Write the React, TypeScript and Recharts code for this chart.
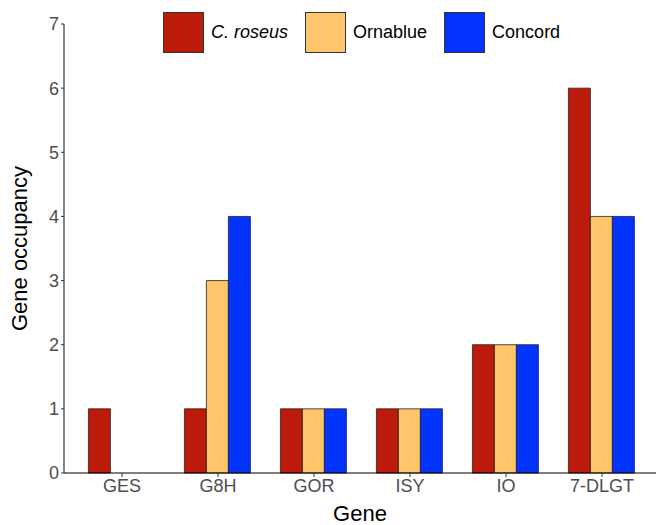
import React from 'react'
import { BarChart, Bar, XAxis, YAxis, Legend } from 'recharts'

const genes = ['GES', 'G8H', 'GOR', 'ISY', 'IO', '7-DLGT']
const roseus = [1, 1, 1, 1, 2, 6]
const ornablue = [0, 3, 1, 1, 2, 4]
const concord = [0, 4, 1, 1, 2, 4]
const yTicks = [0, 1, 2, 3, 4, 5, 6, 7]

const SERIES = [
  { key: 'roseus', name: 'C. roseus', color: '#BC1A0B', italic: true },
  { key: 'ornablue', name: 'Ornablue', color: '#FFC56B', italic: false },
  { key: 'concord', name: 'Concord', color: '#0433FF', italic: false },
]

const data = genes.map((g, i) => ({
  gene: g,
  roseus: roseus[i],
  ornablue: ornablue[i],
  concord: concord[i],
}))

const FONT = '"Liberation Sans", Arial, sans-serif'

const renderLegend = () => (
  <div style={{ display: 'flex', alignItems: 'center', fontFamily: FONT, fontSize: 18, color: '#000' }}>
    {SERIES.map((s) => (
      <div key={s.key} style={{ display: 'flex', alignItems: 'center', marginRight: 17 }}>
        <div
          style={{
            width: 39,
            height: 39,
            background: s.color,
            border: '1px solid #333',
          }}
        />
        <span style={{ marginLeft: 7, fontStyle: s.italic ? 'italic' : 'normal' }}>{s.name}</span>
      </div>
    ))}
  </div>
)

export default function App() {
  return (
    <div style={{ position: 'absolute', left: 0, top: 0, background: '#fff' }}>
      <BarChart
        width={656}
        height={525}
        data={data}
        margin={{ top: 24, right: 0, bottom: 0, left: 0 }}
        barCategoryGap="15%"
        barGap={0}
      >
        <XAxis
          dataKey="gene"
          height={52}
          padding={{ left: 10, right: 6 }}
          tickSize={4}
          tickMargin={2}
          tick={{ fill: '#4D4D4D', fontSize: 18, fontFamily: FONT }}
          axisLine={{ stroke: '#000', strokeWidth: 1.2 }}
          tickLine={{ stroke: '#333' }}
          label={{ value: 'Gene', position: 'insideBottom', offset: 4, fill: '#000', fontSize: 22, fontFamily: FONT }}
        />
        <YAxis
          width={64}
          domain={[0, 7]}
          ticks={yTicks}
          interval={0}
          tickSize={3}
          tickMargin={2}
          tick={{ fill: '#4D4D4D', fontSize: 18, fontFamily: FONT }}
          axisLine={{ stroke: '#333', strokeWidth: 1.2 }}
          tickLine={{ stroke: '#333' }}
          label={{
            value: 'Gene occupancy',
            angle: -90,
            position: 'insideLeft',
            offset: 19,
            style: { textAnchor: 'middle' },
            fill: '#000',
            fontSize: 22,
            fontFamily: FONT,
          }}
        />
        <Legend
          layout="horizontal"
          verticalAlign="middle"
          align="center"
          content={renderLegend}
          wrapperStyle={{ top: 12, left: 163, width: 480 }}
        />
        {SERIES.map((s) => (
          <Bar
            key={s.key}
            dataKey={s.key}
            name={s.name}
            fill={s.color}
            stroke="#222"
            strokeWidth={0.8}
            isAnimationActive={false}
          />
        ))}
      </BarChart>
    </div>
  )
}
